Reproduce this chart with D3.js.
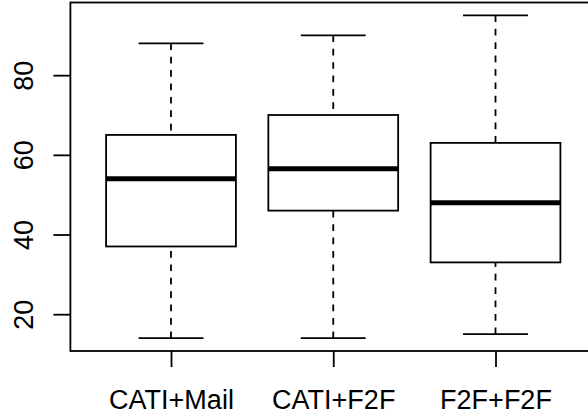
<!DOCTYPE html>
<html lang="en">
<head>
    <meta charset="UTF-8">
    <script src="https://cdn.jsdelivr.net/npm/d3@7"></script>
    <style>
        html, body { margin: 0; padding: 0; background: #fff; }
        text { font-family: "Liberation Sans", Arial, Helvetica, sans-serif; fill: #000; }
    </style>
</head>
<body>
<div id="fig"></div>
<script>
    const width = 588, height = 417

    // boxplot stats
    const categories = ["CATI+Mail", "CATI+F2F", "F2F+F2F"]
    const whiskerLow = [14, 14, 15]
    const q1 = [37, 46, 33]
    const median = [54, 56.5, 48]
    const q3 = [65, 70, 63]
    const whiskerHigh = [88, 90, 95]
    const yTicks = [20, 40, 60, 80]

    const boxes = categories.map((c, i) => ({
        name: c, pos: i + 1,
        lo: whiskerLow[i], q1: q1[i], med: median[i], q3: q3[i], hi: whiskerHigh[i]
    }))

    // R style: x from 0.5..3.5 and data range, both padded by 4%
    const x = d3.scaleLinear().domain([0.38, 3.62]).range([70.4, 596.1])
    const y = d3.scaleLinear().domain([10.76, 98.24]).range([351, 2.5])

    const lw = 1.8
    const svg = d3.select("#fig")
        .append("svg")
        .attr("width", width)
        .attr("height", height)

    const g = svg.selectAll("g.box")
        .data(boxes)
        .enter()
        .append("g")
        .attr("class", "box")

    // whiskers, dashed, drawn from whisker end toward the box
    g.append("line")
        .attr("x1", d => x(d.pos)).attr("x2", d => x(d.pos))
        .attr("y1", d => y(d.hi)).attr("y2", d => y(d.q3))
        .attr("stroke", "#000").attr("stroke-width", lw)
        .attr("stroke-dasharray", "6.7,6.7")
    g.append("line")
        .attr("x1", d => x(d.pos)).attr("x2", d => x(d.pos))
        .attr("y1", d => y(d.lo)).attr("y2", d => y(d.q1))
        .attr("stroke", "#000").attr("stroke-width", lw)
        .attr("stroke-dasharray", "6.7,6.7")

    // staples
    g.selectAll("line.staple")
        .data(d => [d.lo, d.hi].map(v => ({pos: d.pos, v: v})))
        .enter()
        .append("line")
        .attr("class", "staple")
        .attr("x1", d => x(d.pos - 0.2)).attr("x2", d => x(d.pos + 0.2))
        .attr("y1", d => y(d.v)).attr("y2", d => y(d.v))
        .attr("stroke", "#000").attr("stroke-width", lw)

    // box
    g.append("rect")
        .attr("x", d => x(d.pos - 0.4))
        .attr("width", d => x(d.pos + 0.4) - x(d.pos - 0.4))
        .attr("y", d => y(d.q3))
        .attr("height", d => y(d.q1) - y(d.q3))
        .attr("fill", "#fff")
        .attr("stroke", "#000").attr("stroke-width", lw)

    // median
    g.append("line")
        .attr("x1", d => x(d.pos - 0.4)).attr("x2", d => x(d.pos + 0.4))
        .attr("y1", d => y(d.med)).attr("y2", d => y(d.med))
        .attr("stroke", "#000").attr("stroke-width", 5)

    // plot frame
    svg.append("rect")
        .attr("x", x.range()[0]).attr("y", y.range()[1])
        .attr("width", x.range()[1] - x.range()[0])
        .attr("height", y.range()[0] - y.range()[1])
        .attr("fill", "none")
        .attr("stroke", "#000").attr("stroke-width", lw)

    // y axis
    const yAxis = svg.append("g")
        .attr("transform", `translate(${x.range()[0]},0)`)
        .call(d3.axisLeft(y).tickValues(yTicks).tickSize(17).tickSizeOuter(0).tickFormat(d3.format("d")))
    yAxis.select(".domain").remove()
    yAxis.selectAll(".tick line").attr("stroke", "#000").attr("stroke-width", lw)
    yAxis.selectAll(".tick text")
        .attr("x", 0).attr("dy", null)
        .attr("transform", "translate(-37,0) rotate(-90)")
        .attr("text-anchor", "middle")
        .style("font-size", "27px")

    // x axis
    const xAxis = svg.append("g")
        .attr("transform", `translate(0,${y.range()[0]})`)
        .call(d3.axisBottom(x).tickValues(boxes.map(d => d.pos)).tickSize(16).tickSizeOuter(0)
            .tickFormat(d => categories[d - 1]))
    xAxis.select(".domain").remove()
    xAxis.selectAll(".tick line").attr("stroke", "#000").attr("stroke-width", lw)
    xAxis.selectAll(".tick text")
        .attr("y", 58).attr("dy", null)
        .style("font-size", "27px")
</script>
</body>
</html>
